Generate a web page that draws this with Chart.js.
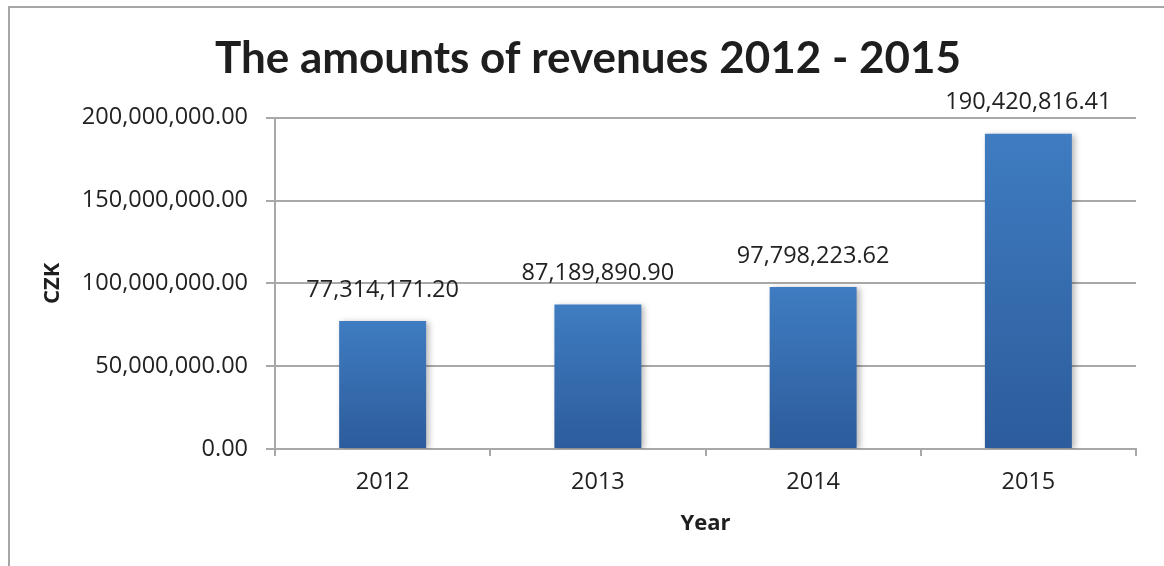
<!DOCTYPE html>
<html>
<head>
<meta charset="utf-8">
<script src="https://cdn.jsdelivr.net/npm/chart.js"></script>
<style>
  html, body { margin: 0; padding: 0; background: #fff; }
  #wrap { position: relative; width: 1164px; height: 566px; overflow: hidden; }
  #frame { position: absolute; left: 8px; top: 6px; width: 1200px; height: 600px;
           border-left: 2px solid #a6a6a6; border-top: 2px solid #a6a6a6; }
  #myChart { position: absolute; left: 0; top: 0; }
</style>
</head>
<body>
<div id="wrap">
  <div id="frame"></div>
  <canvas id="myChart" width="1164" height="566"></canvas>
</div>
<script>
// revenue per year, CZK
const years = ['2012', '2013', '2014', '2015'];
const revenues = [77314171.20, 87189890.90, 97798223.62, 190420816.41];
const yTicks = [0, 50000000, 100000000, 150000000, 200000000];

const textFont = '"Open Sans", sans-serif';
const titleFont = 'Lato, "Open Sans", sans-serif';
const gridColor = '#a8a8a8';
const fmt = v => v.toLocaleString('en-US', { minimumFractionDigits: 2, maximumFractionDigits: 2 });

// each bar gets its own top-to-bottom gradient
function barGradient(ctx) {
  const chart = ctx.chart;
  if (!chart.chartArea || ctx.type !== 'data') return '#3a74b8';
  const y = chart.scales.y;
  const top = y.getPixelForValue(ctx.raw);
  const bottom = y.getPixelForValue(0);
  const g = chart.ctx.createLinearGradient(0, top, 0, bottom);
  g.addColorStop(0, '#3f7cc1');
  g.addColorStop(1, '#2c5c9b');
  return g;
}

// soft shadow behind the bars
const barShadow = {
  id: 'barShadow',
  beforeDatasetDraw(chart) {
    const c = chart.ctx;
    c.save();
    c.shadowColor = 'rgba(0,0,0,0.28)';
    c.shadowBlur = 6;
    c.shadowOffsetX = 3;
    c.shadowOffsetY = 1;
  },
  afterDatasetDraw(chart) {
    chart.ctx.restore();
  }
};

// value labels above the bars
const valueLabels = {
  id: 'valueLabels',
  afterDatasetsDraw(chart) {
    const c = chart.ctx;
    const meta = chart.getDatasetMeta(0);
    c.save();
    c.font = '23.5px ' + textFont;
    c.fillStyle = '#222';
    c.textAlign = 'center';
    c.textBaseline = 'middle';
    meta.data.forEach((bar, i) => {
      c.fillText(fmt(revenues[i]), bar.x, bar.y - 31);
    });
    c.restore();
  }
};

const data = {
  labels: years,
  datasets: [{
    data: revenues,
    backgroundColor: barGradient,
    borderWidth: 0,
    categoryPercentage: 1,
    barPercentage: 0.404
  }]
};

const config = {
  type: 'bar',
  data,
  plugins: [barShadow, valueLabels],
  options: {
    responsive: false,
    animation: false,
    layout: { padding: { left: 40, right: 28, top: 0, bottom: 0 } },
    plugins: {
      legend: { display: false },
      tooltip: { enabled: false },
      title: {
        display: true,
        text: 'The amounts of revenues 2012 - 2015',
        color: '#1e1e1e',
        font: { family: titleFont, size: 44, weight: 'bold' },
        padding: { top: 32, bottom: 33 }
      }
    },
    scales: {
      x: {
        grid: {
          display: true,
          drawOnChartArea: false,
          drawTicks: true,
          tickLength: 7,
          color: gridColor,
          lineWidth: 2
        },
        border: { display: true, color: gridColor, width: 2 },
        ticks: { color: '#222', font: { family: textFont, size: 23.5 }, padding: 12 },
        title: {
          display: true,
          text: 'Year',
          color: '#1e1e1e',
          font: { family: textFont, size: 22, weight: 'bold' },
          padding: { top: 4, bottom: 29 }
        },
        afterFit(scale) { scale.height = 117; }
      },
      y: {
        min: 0,
        max: 200000000,
        afterBuildTicks(scale) { scale.ticks = yTicks.map(v => ({ value: v })); },
        grid: { color: gridColor, lineWidth: 2, tickLength: 9 },
        border: { display: true, color: gridColor, width: 2 },
        ticks: {
          color: '#222',
          font: { family: textFont, size: 23.5 },
          padding: 18,
          callback: v => fmt(v)
        },
        title: {
          display: true,
          text: 'CZK',
          color: '#1e1e1e',
          font: { family: textFont, size: 22, weight: 'bold' },
          padding: { top: 0, bottom: 0 }
        },
        afterFit(scale) { scale.width = 235; }
      }
    }
  }
};

const myChart = new Chart(document.getElementById('myChart'), config);
</script>
</body>
</html>
